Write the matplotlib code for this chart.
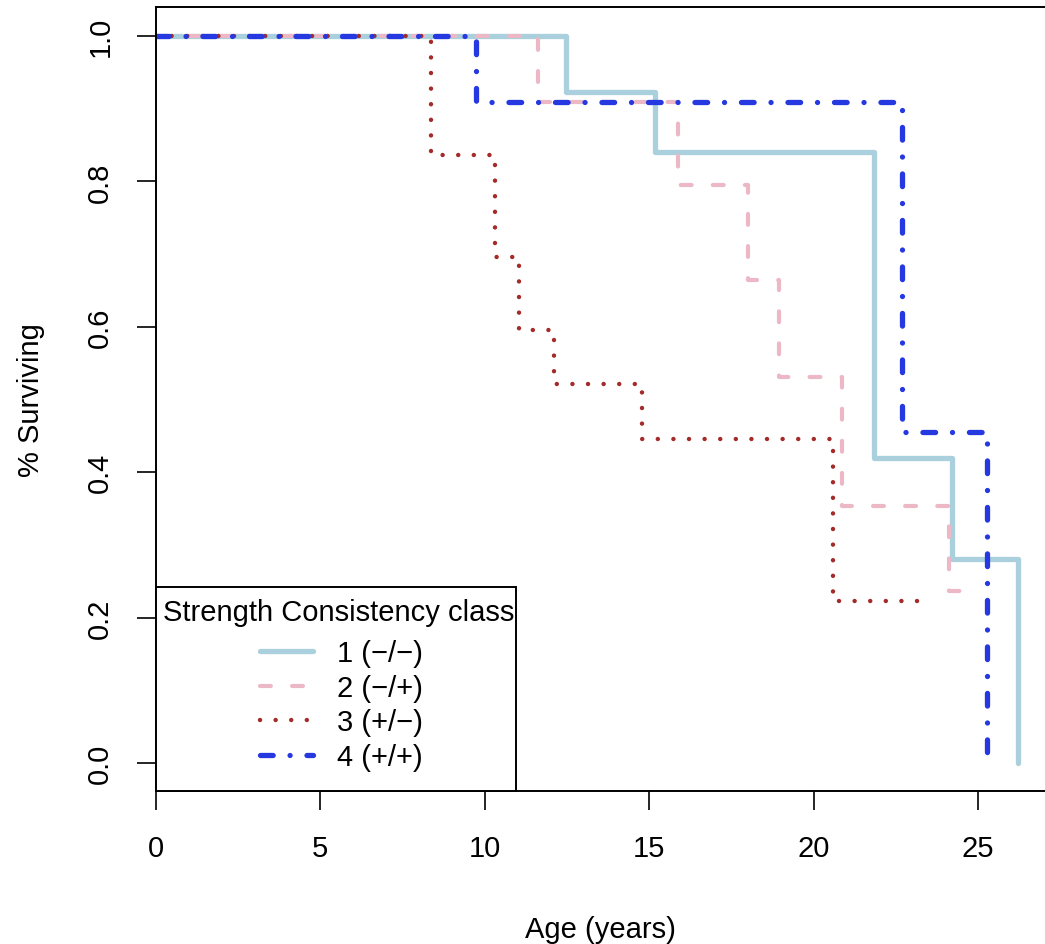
import matplotlib
matplotlib.use('Agg')
from matplotlib import pyplot as plt
from matplotlib.patches import Rectangle

# Kaplan-Meier style survival curves
t1 = [0, 12.46, 15.17, 21.85, 24.20, 26.23]
s1 = [1.0, 0.923, 0.840, 0.420, 0.280, 0.0]

t2 = [0, 11.62, 15.87, 18.00, 18.94, 20.88, 24.13, 24.60]
s2 = [1.0, 0.910, 0.795, 0.664, 0.531, 0.354, 0.236, 0.236]

t3 = [0, 8.36, 10.30, 11.03, 12.10, 14.77, 20.58, 23.47]
s3 = [1.0, 0.837, 0.696, 0.596, 0.521, 0.446, 0.223, 0.223]

t4 = [0, 9.73, 22.70, 25.29]
s4 = [1.0, 0.909, 0.455, 0.0]

labels = ['1 (\u2212/\u2212)', '2 (\u2212/+)', '3 (+/\u2212)', '4 (+/+)']
legend_title = 'Strength Consistency class'

plt.rcParams['font.family'] = ['Liberation Sans', 'DejaVu Sans']
fs = 21

fig = plt.figure(figsize=(10.45, 9.45), dpi=100)
ax = fig.add_axes([156/1045, 1-792/945, 1-156/1045, (792-8)/945])

ax.step(t1, s1, where='post', color='#a9d0dc', lw=3.8, solid_capstyle='round',
        label=labels[0])
ax.step(t2, s2, where='post', color='#ecb8c6', lw=3.0, linestyle=(0, (2.6, 5.1)),
        dash_capstyle='round', label=labels[1])
ax.step(t3, s3, where='post', color='#a52a2a', lw=3.2, linestyle=(0, (0.01, 3.5)),
        dash_capstyle='round', label=labels[2])
ax.step(t4, s4, where='post', color='#2638e0', lw=3.8, linestyle=(0, (2.4, 3.2, 0.01, 3.2)),
        dash_capstyle='round', label=labels[3])

ax.set_xlim(0, 27.04)
ax.set_ylim(-0.0385, 1.04)
ax.spines['right'].set_visible(False)
for sp in ax.spines.values():
    sp.set_linewidth(1.4)

ax.set_xticks([0, 5, 10, 15, 20, 25])
ax.set_yticks([0, 0.2, 0.4, 0.6, 0.8, 1.0])
ax.set_yticklabels(['0.0', '0.2', '0.4', '0.6', '0.8', '1.0'], rotation=90, va='center')
ax.tick_params(direction='out', length=14, width=1.2, labelsize=fs)
ax.tick_params(axis='x', pad=17)
ax.tick_params(axis='y', pad=16)

ax.set_xlabel('Age (years)', fontsize=fs, labelpad=38)
ax.set_ylabel('% Surviving', fontsize=fs, labelpad=30)

# legend box drawn by hand so the entries can be indented like the R legend
ax.add_patch(Rectangle((0, 0), (516-156)/889, (792-588)/784, transform=ax.transAxes,
                       fill=True, facecolor='white', edgecolor='black', lw=1.4,
                       zorder=5, clip_on=False))
ax.text(0.008, (792-613)/784, legend_title, transform=ax.transAxes, fontsize=fs,
        ha='left', va='center', zorder=6)
leg = ax.legend(loc='upper left', bbox_to_anchor=((260-156)/889, (792-640)/784),
                frameon=False, fontsize=fs, handlelength=1.8, handletextpad=0.85,
                labelspacing=0.23, borderpad=0, borderaxespad=0)
leg.set_zorder(7)

fig.savefig('out.png', dpi=100)
